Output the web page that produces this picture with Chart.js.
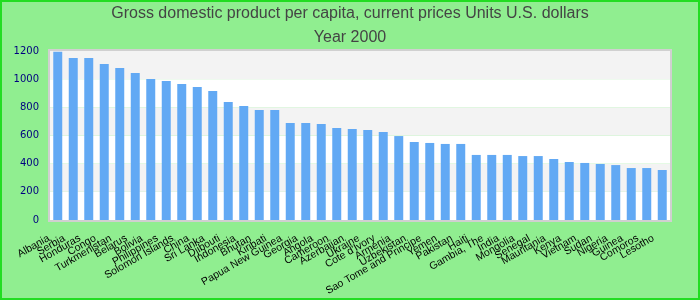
<!DOCTYPE html>
<html>
<head>
<meta charset="utf-8">
<script src="https://cdn.jsdelivr.net/npm/chart.js@4"></script>
<style>
html,body{margin:0;padding:0;background:#90ee90;}
#wrap{width:700px;height:300px;position:relative;}
</style>
</head>
<body>
<div id="wrap"><canvas id="c" width="700" height="300"></canvas></div>
<script>
const categories = ["Albania","Serbia","Honduras","Congo","Turkmenistan","Belarus","Bolivia","Philippines","Solomon Islands","China","Sri Lanka","Djibouti","Indonesia","Bhutan","Kiribati","Papua New Guinea","Georgia","Angola","Cameroon","Azerbaijan","Ukraine","Cote d'Ivory","Armenia","Uzbekistan","Sao Tome and Principe","Yemen","Pakistan","Haiti","Gambia, The","India","Mongolia","Senegal","Mauritania","Kenya","Vietnam","Sudan","Nigeria","Guinea","Comoros","Lesotho"];
const gdpValues = [1195,1150,1150,1108,1079,1044,1001,987,966,944,916,838,809,781,781,689,689,682,653,646,639,625,596,554,547,540,540,462,462,462,454,454,433,412,405,398,390,369,369,355];
const yTicks = [0,200,400,600,800,1000,1200];
const titleLines = ["Gross domestic product per capita, current prices Units U.S. dollars","Year 2000"];

const bgPlugin = {
  id:'bg',
  beforeDraw(chart){
    const ctx = chart.ctx, a = chart.chartArea, y = chart.scales.y;
    ctx.save();
    ctx.fillStyle = '#90ee90';
    ctx.fillRect(0,0,chart.width,chart.height);
    ctx.strokeStyle = '#22dd22';
    ctx.lineWidth = 2;
    ctx.strokeRect(1,1,chart.width-2,chart.height-2);
    for (let i=0;i<yTicks.length-1;i++){
      const t0 = y.getPixelForValue(yTicks[i]);
      const t1 = y.getPixelForValue(yTicks[i+1]);
      ctx.fillStyle = (i%2===0) ? '#ffffff' : '#f3f3f3';
      ctx.fillRect(a.left, t1, a.right-a.left, t0-t1);
    }
    ctx.strokeStyle = '#d0d0d0';
    ctx.lineWidth = 2;
    ctx.strokeRect(a.left-1, a.top-1, a.right-a.left+2, a.bottom-a.top+2);
    ctx.restore();
  }
};

new Chart(document.getElementById('c'), {
  type:'bar',
  data:{labels:categories, datasets:[{data:gdpValues, backgroundColor:'#62a9f4', borderWidth:0, barPercentage:0.58, categoryPercentage:1.0}]},
  options:{
    responsive:false, animation:false,
    layout:{padding:0},
    plugins:{
      legend:{display:false}, tooltip:{enabled:false},
      title:{display:true, text:titleLines, color:'#444444', font:{family:'Liberation Sans, Arial, sans-serif', size:16, weight:'normal', lineHeight:1.5}, padding:{top:2,bottom:1}}
    },
    scales:{
      x:{
        grid:{display:false, drawTicks:false}, border:{display:false},
        ticks:{autoSkip:false, minRotation:30, maxRotation:30, color:'#000000', padding:12, labelOffset:-9, font:{family:'Liberation Sans, Arial, sans-serif', size:10.5}},
        afterFit(s){ s.height = 80; }
      },
      y:{
        min:0, max:1200,
        grid:{display:false, drawTicks:false}, border:{display:false},
        ticks:{stepSize:200, color:'#000080', padding:11, font:{family:'DejaVu Sans, sans-serif', size:10}, callback:(v)=>String(v)},
        afterFit(s){ s.width = 50; }
      },
      yr:{
        position:'right', min:0, max:1200,
        grid:{display:false, drawTicks:false}, border:{display:false},
        ticks:{display:false},
        afterFit(s){ s.width = 30; }
      }
    }
  },
  plugins:[bgPlugin]
});
</script>
</body>
</html>
